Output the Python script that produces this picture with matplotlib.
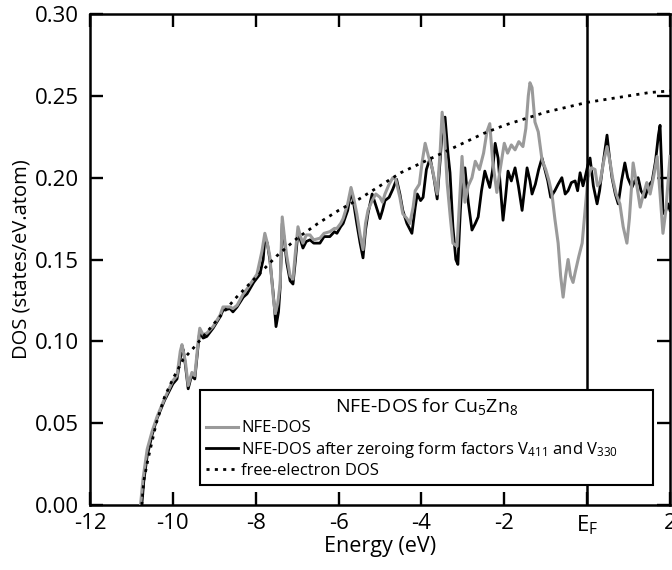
import matplotlib
matplotlib.use("Agg")
import matplotlib.pyplot as plt

plt.rcParams['font.family'] = ['Open Sans', 'DejaVu Sans']
plt.rcParams['mathtext.fontset'] = 'custom'
plt.rcParams['mathtext.rm'] = 'Open Sans'
plt.rcParams['mathtext.it'] = 'Open Sans:italic'
plt.rcParams['mathtext.bf'] = 'Open Sans:bold'

# NFE-DOS (full set of form factors)
nfe_e = [-10.78, -10.72, -10.62, -10.5, -10.38, -10.2, -10.0, -9.9, -9.82, -9.78,
         -9.7, -9.63, -9.54, -9.47, -9.38, -9.35, -9.27, -9.18, -9.03, -8.86,
         -8.79, -8.62, -8.55, -8.45, -8.3, -8.21, -8.05, -7.97, -7.85, -7.78,
         -7.72, -7.66, -7.58, -7.53, -7.47, -7.41, -7.36, -7.3, -7.25, -7.17,
         -7.10, -7.04, -6.98, -6.92, -6.86, -6.78, -6.69, -6.6, -6.45, -6.35,
         -6.21, -6.1, -6.04, -5.95, -5.89, -5.78, -5.7, -5.64, -5.56, -5.48,
         -5.41, -5.35, -5.29, -5.19, -5.1, -5.0, -4.94, -4.88, -4.78, -4.69,
         -4.62, -4.52, -4.45, -4.35, -4.28, -4.2, -4.15, -4.05, -3.98, -3.91,
         -3.82, -3.74, -3.62, -3.55, -3.5, -3.44, -3.38, -3.3, -3.24, -3.14,
         -3.08, -3.02, -2.95, -2.87, -2.78, -2.7, -2.6, -2.5, -2.42, -2.35,
         -2.28, -2.18, -2.1, -2.0, -1.92, -1.83, -1.74, -1.65, -1.55, -1.48,
         -1.42, -1.38, -1.33, -1.26, -1.18, -1.09, -1.0, -0.92, -0.85, -0.78,
         -0.70, -0.64, -0.58, -0.52, -0.46, -0.4, -0.34, -0.29, -0.2, -0.12,
         -0.05, 0.02, 0.1, 0.19, 0.25, 0.31, 0.4, 0.48, 0.55, 0.62,
         0.7, 0.79, 0.87, 0.96, 1.02, 1.11, 1.2, 1.28, 1.36, 1.44,
         1.52, 1.6, 1.69, 1.76, 1.83, 1.9, 2.0]
nfe_dos = [0.0, 0.016, 0.034, 0.045, 0.054, 0.065, 0.076, 0.079, 0.094, 0.098,
           0.088, 0.073, 0.081, 0.079, 0.102, 0.108, 0.104, 0.105, 0.109, 0.116,
           0.121, 0.121, 0.120, 0.122, 0.129, 0.132, 0.138, 0.141, 0.155, 0.166,
           0.160, 0.152, 0.128, 0.117, 0.123, 0.135, 0.176, 0.162, 0.152, 0.140,
           0.138, 0.155, 0.170, 0.164, 0.160, 0.165, 0.165, 0.162, 0.163, 0.166,
           0.167, 0.169, 0.169, 0.172, 0.175, 0.184, 0.194, 0.188, 0.178, 0.165,
           0.156, 0.172, 0.180, 0.186, 0.190, 0.188, 0.185, 0.190, 0.196, 0.200,
           0.199, 0.188, 0.178, 0.175, 0.172, 0.182, 0.192, 0.196, 0.210, 0.221,
           0.212, 0.206, 0.190, 0.215, 0.240, 0.225, 0.197, 0.175, 0.160, 0.158,
           0.185, 0.213, 0.185, 0.195, 0.200, 0.210, 0.205, 0.215, 0.228, 0.233,
           0.210, 0.191, 0.205, 0.221, 0.215, 0.220, 0.217, 0.222, 0.219, 0.230,
           0.250, 0.258, 0.255, 0.234, 0.228, 0.211, 0.205, 0.198, 0.190, 0.175,
           0.160, 0.140, 0.127, 0.140, 0.150, 0.140, 0.136, 0.142, 0.152, 0.160,
           0.180, 0.200, 0.206, 0.205, 0.195, 0.197, 0.210, 0.219, 0.210, 0.199,
           0.190, 0.184, 0.170, 0.160, 0.175, 0.209, 0.195, 0.182, 0.190, 0.197,
           0.190, 0.200, 0.213, 0.190, 0.166, 0.180, 0.213]

# NFE-DOS with V411 and V330 set to zero
zero_e = [-10.75, -10.7, -10.62, -10.5, -10.38, -10.2, -10.0, -9.9, -9.8, -9.75,
          -9.7, -9.63, -9.55, -9.47, -9.38, -9.35, -9.27, -9.18, -9.03, -8.86,
          -8.79, -8.62, -8.55, -8.45, -8.3, -8.21, -8.05, -7.9, -7.82, -7.78,
          -7.72, -7.66, -7.58, -7.51, -7.45, -7.41, -7.36, -7.3, -7.25, -7.17,
          -7.10, -7.04, -6.98, -6.92, -6.86, -6.78, -6.69, -6.6, -6.45, -6.35,
          -6.21, -6.1, -6.04, -5.95, -5.89, -5.78, -5.7, -5.64, -5.56, -5.48,
          -5.41, -5.35, -5.29, -5.19, -5.1, -5.0, -4.94, -4.88, -4.78, -4.69,
          -4.6, -4.52, -4.45, -4.35, -4.23, -4.15, -4.1, -4.02, -3.96, -3.88,
          -3.79, -3.7, -3.62, -3.55, -3.48, -3.43, -3.36, -3.31, -3.24, -3.17,
          -3.12, -3.06, -3.0, -2.95, -2.87, -2.78, -2.7, -2.63, -2.55, -2.47,
          -2.4, -2.35, -2.28, -2.22, -2.15, -2.08, -2.03, -1.97, -1.91, -1.83,
          -1.74, -1.66, -1.57, -1.5, -1.45, -1.38, -1.33, -1.25, -1.17, -1.09,
          -1.02, -0.95, -0.88, -0.78, -0.7, -0.61, -0.53, -0.46, -0.38, -0.29,
          -0.23, -0.17, -0.1, -0.05, 0.02, 0.07, 0.15, 0.24, 0.3, 0.36,
          0.42, 0.48, 0.54, 0.60, 0.68, 0.75, 0.83, 0.91, 0.98, 1.08,
          1.15, 1.23, 1.3, 1.4, 1.48, 1.57, 1.65, 1.72, 1.76, 1.8,
          1.83, 1.9, 1.95, 2.0]
zero_dos = [0.0, 0.015, 0.030, 0.043, 0.053, 0.064, 0.074, 0.077, 0.093, 0.095,
            0.086, 0.071, 0.079, 0.077, 0.100, 0.106, 0.102, 0.103, 0.108, 0.115,
            0.119, 0.120, 0.118, 0.121, 0.127, 0.129, 0.136, 0.141, 0.150, 0.163,
            0.160, 0.150, 0.130, 0.109, 0.118, 0.133, 0.172, 0.160, 0.148, 0.137,
            0.135, 0.150, 0.167, 0.162, 0.157, 0.161, 0.162, 0.160, 0.160, 0.164,
            0.164, 0.167, 0.166, 0.170, 0.172, 0.180, 0.192, 0.185, 0.172, 0.160,
            0.151, 0.168, 0.178, 0.190, 0.183, 0.175, 0.180, 0.186, 0.188, 0.193,
            0.199, 0.190, 0.180, 0.172, 0.166, 0.182, 0.190, 0.186, 0.188, 0.205,
            0.212, 0.200, 0.187, 0.210, 0.236, 0.237, 0.215, 0.203, 0.170, 0.150,
            0.147, 0.180, 0.205, 0.206, 0.185, 0.168, 0.172, 0.176, 0.192, 0.204,
            0.198, 0.194, 0.205, 0.221, 0.212, 0.190, 0.174, 0.188, 0.204, 0.198,
            0.206, 0.195, 0.180, 0.195, 0.206, 0.198, 0.190, 0.196, 0.205, 0.212,
            0.205, 0.198, 0.188, 0.192, 0.196, 0.200, 0.190, 0.192, 0.197, 0.198,
            0.192, 0.203, 0.195, 0.200, 0.208, 0.212, 0.195, 0.184, 0.192, 0.204,
            0.215, 0.226, 0.212, 0.200, 0.190, 0.184, 0.198, 0.209, 0.200, 0.194,
            0.198, 0.200, 0.192, 0.188, 0.195, 0.198, 0.210, 0.226, 0.232, 0.205,
            0.178, 0.180, 0.184, 0.180]

# free-electron DOS
free_e = [-10.75, -10.7, -10.6, -10.4, -10.2, -10.0, -9.75, -9.5, -9.0, -8.5,
          -8.0, -7.5, -7.0, -6.5, -6.0, -5.5, -5.0, -4.5, -4.0, -3.5,
          -3.0, -2.5, -2.0, -1.5, -1.0, -0.5, 0.0, 0.5, 1.0, 1.5, 2.0]
free_dos = [0.0, 0.015, 0.028, 0.050, 0.066, 0.077, 0.089, 0.096, 0.111, 0.126,
            0.139, 0.152, 0.163, 0.172, 0.180, 0.187, 0.195, 0.203, 0.209, 0.215,
            0.221, 0.227, 0.232, 0.236, 0.240, 0.243, 0.246, 0.248, 0.250, 0.252, 0.253]

x_ticks = [-12, -10, -8, -6, -4, -2, 0, 2]
x_ticklabels = ['-12', '-10', '-8', '-6', '-4', '-2', r'E$_{\mathrm{F}}$', '2']
y_ticks = [0.0, 0.05, 0.10, 0.15, 0.20, 0.25, 0.30]

fig = plt.figure(figsize=(6.72, 5.7), dpi=100)
ax = fig.add_axes([90 / 672, 65 / 570, 580 / 672, 491 / 570])

ax.plot(nfe_e, nfe_dos, color='#9a9a9a', lw=2.2, label='NFE-DOS', zorder=3)
ax.plot(zero_e, zero_dos, color='black', lw=2.0,
        label=r'NFE-DOS after zeroing form factors V$_{411}$ and V$_{330}$', zorder=2)
ax.plot(free_e, free_dos, color='black', lw=2.0, dashes=(1.1, 1.9),
        label='free-electron DOS', zorder=4)
ax.axvline(0, color='black', lw=1.8, zorder=5)

ax.set_xlim(-12, 2)
ax.set_ylim(0, 0.30)
ax.set_xticks(x_ticks)
ax.set_xticklabels(x_ticklabels)
ax.set_yticks(y_ticks)
ax.set_yticklabels(['%.2f' % v for v in y_ticks])
ax.tick_params(direction='in', length=9.5, width=1.7, labelsize=16,
               top=True, right=True)
ax.tick_params(axis='x', pad=6)
ax.tick_params(axis='y', pad=8)
for s in ax.spines.values():
    s.set_linewidth(1.8)

ax.set_xlabel('Energy (eV)', fontsize=15.5, labelpad=-1)
ax.set_ylabel('DOS (states/eV.atom)', fontsize=14.5, labelpad=2)

leg = ax.legend(loc='lower left', bbox_to_anchor=(0.19, 0.041, 0.781, 0.218),
                mode='expand', title=r'NFE-DOS for Cu$_{5}$Zn$_{8}$',
                fontsize=12, title_fontsize=14, fancybox=False,
                edgecolor='black', framealpha=1, borderaxespad=0,
                handlelength=1.9, handletextpad=0.2, labelspacing=0.2,
                borderpad=0.35)
leg.get_frame().set_linewidth(1.5)

fig.savefig('out.png', dpi=100)
